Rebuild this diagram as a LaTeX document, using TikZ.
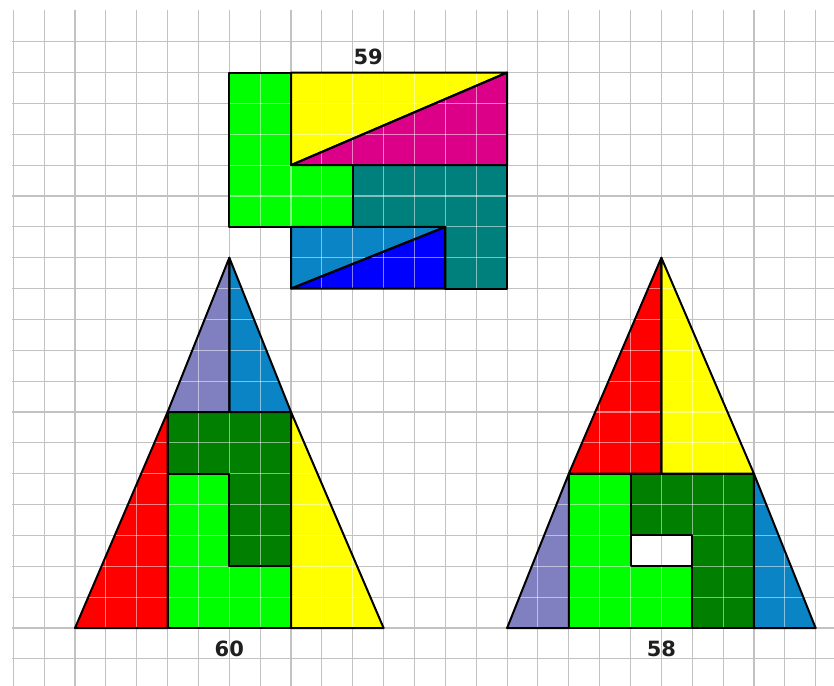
\documentclass[tikz,border=0pt]{standalone}
\usepackage{fontspec}
\setmainfont{DejaVu Sans}
\definecolor{lgreen}{HTML}{00FF00}
\definecolor{dgreen}{HTML}{007F00}
\definecolor{yel}{HTML}{FFFF00}
\definecolor{mag}{HTML}{DC0088}
\definecolor{teal2}{HTML}{00807C}
\definecolor{cblue}{HTML}{0A84C4}
\definecolor{bblue}{HTML}{0000FF}
\definecolor{lav}{HTML}{8080C0}
\definecolor{rred}{HTML}{FF0000}
\newcommand{\fillpiece}[2]{\fill[#1] #2;}
\newcommand{\drawpiece}[2]{\draw[piece] #2;}
\newcommand{\allpieces}[1]{%
  % figure 59
  #1{lgreen}{(7,1)--(9,1)--(9,4)--(11,4)--(11,6)--(7,6)--cycle}%
  #1{yel}{(9,1)--(16,1)--(9,4)--cycle}%
  #1{mag}{(16,1)--(16,4)--(9,4)--cycle}%
  #1{teal2}{(11,4)--(16,4)--(16,8)--(14,8)--(14,6)--(11,6)--cycle}%
  #1{cblue}{(9,6)--(14,6)--(9,8)--cycle}%
  #1{bblue}{(14,6)--(14,8)--(9,8)--cycle}%
  % figure 60
  #1{lav}{(7,7)--(7,12)--(5,12)--cycle}%
  #1{cblue}{(7,7)--(9,12)--(7,12)--cycle}%
  #1{dgreen}{(5,12)--(9,12)--(9,17)--(7,17)--(7,14)--(5,14)--cycle}%
  #1{lgreen}{(5,14)--(7,14)--(7,17)--(9,17)--(9,19)--(5,19)--cycle}%
  #1{rred}{(5,12)--(5,19)--(2,19)--cycle}%
  #1{yel}{(9,12)--(12,19)--(9,19)--cycle}%
  % figure 58
  #1{rred}{(21,7)--(21,14)--(18,14)--cycle}%
  #1{yel}{(21,7)--(24,14)--(21,14)--cycle}%
  #1{dgreen}{(20,14)--(24,14)--(24,19)--(22,19)--(22,16)--(20,16)--cycle}%
  #1{lgreen}{(18,14)--(20,14)--(20,17)--(22,17)--(22,19)--(18,19)--cycle}%
  #1{lav}{(18,14)--(18,19)--(16,19)--cycle}%
  #1{cblue}{(24,14)--(26,19)--(24,19)--cycle}%
}
\begin{document}
\begin{tikzpicture}[x=30.86pt,y=-30.86pt,
  piece/.style={draw=black,line width=2pt,line join=round},
  lbl/.style={font=\fontsize{21}{21}\selectfont\bfseries,inner sep=0pt,text=black!88},
  gridline/.style={draw=black!24,line width=1.1pt},
  overgrid/.style={draw=white,opacity=0.5,line width=1.1pt}]
\fill[white] (-0.4310,-1.3513) rectangle (26.594,20.878);
\useasboundingbox (-0.4310,-1.3513) rectangle (26.594,20.878);
% background grid
\foreach \c in {0,...,26} \draw[gridline] (\c,-1.03) -- (\c,20.878);
\foreach \r in {0,...,20} \draw[gridline] (-0.04,\r) -- (26.594,\r);
% pieces
\allpieces\fillpiece
% light grid over pieces
\begin{scope}[even odd rule]
\clip (7,1)--(16,1)--(16,8)--(9,8)--(9,6)--(7,6)--cycle
      (7,7)--(9,12)--(12,19)--(2,19)--(5,12)--cycle
      (21,7)--(24,14)--(26,19)--(16,19)--(18,14)--cycle
      (20,16) rectangle (22,17);
\foreach \c in {0,...,26} \draw[overgrid] (\c,-1.03) -- (\c,20.878);
\foreach \r in {0,...,20} \draw[overgrid] (-0.04,\r) -- (26.594,\r);
\end{scope}
% outlines
\allpieces\drawpiece
% labels
\node[lbl] (n59) at (11.5,0.49) {59};
\node[lbl] (n60) at (7,19.67) {60};
\node[lbl] (n58) at (21,19.67) {58};
\end{tikzpicture}
\end{document}
